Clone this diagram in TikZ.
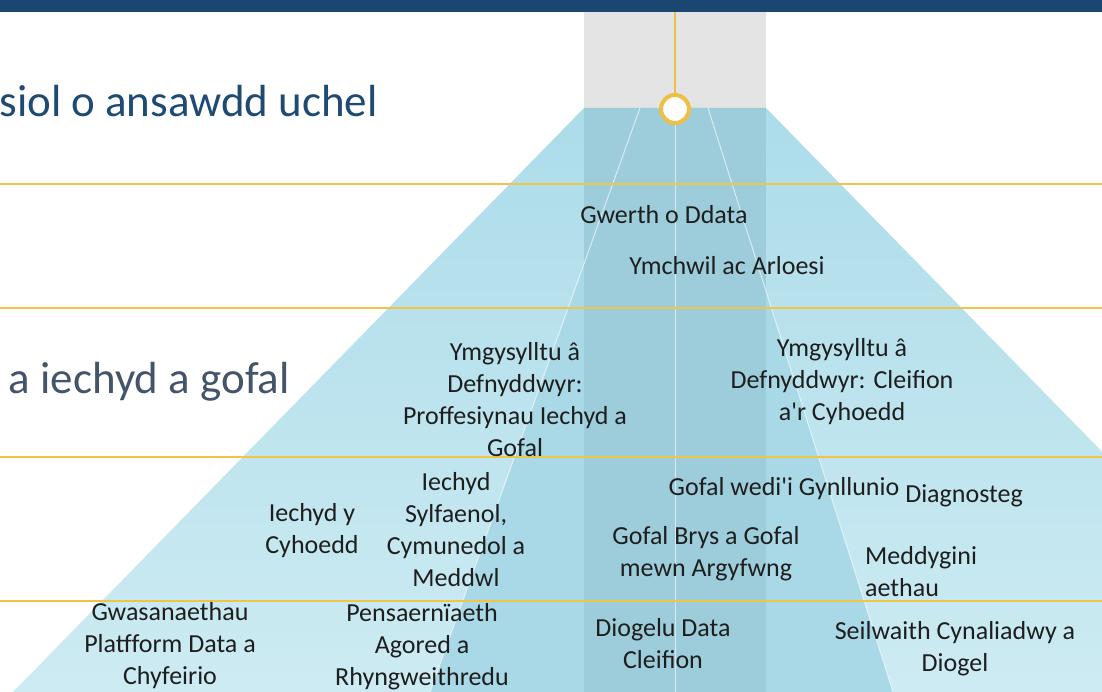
\documentclass[tikz,border=0pt]{standalone}
\usepackage{fontspec}
\setmainfont{Carlito}[Ligatures=TeXOff]
\definecolor{barblue}{HTML}{1B4670}
\definecolor{titleblue}{HTML}{1F4A74}
\definecolor{titlegray}{HTML}{44546A}
\definecolor{graybox}{HTML}{E4E4E4}
\definecolor{conetop}{HTML}{ACDCEA}
\definecolor{conebot}{HTML}{CDEBF2}
\definecolor{fanblue}{HTML}{A9D8E6}
\definecolor{colblue}{HTML}{9DCDDB}
\definecolor{gold}{HTML}{EDC043}
\definecolor{hline}{HTML}{F0C447}
\definecolor{labelc}{HTML}{1E1E1E}
\tikzset{
  lbl/.style={font=\fontsize{26}{31.7}\selectfont, text=labelc, align=center, inner sep=0pt, anchor=base},
  ttl/.style={font=\fontsize{45}{54}\selectfont, inner sep=0pt, anchor=base east},
  rowline/.style={draw=hline, line width=1.3pt},
  fanline/.style={draw=white, draw opacity=0.6, line width=1pt}
}
\begin{document}
\begin{tikzpicture}[x=1pt,y=-1pt]
\useasboundingbox (0,0) rectangle (1102,692);
\begin{scope}
\clip (0,0) rectangle (1102,692);
\fill[white] (0,0) rectangle (1102,692);
% gray box and bar
\fill[graybox] (584,12) rectangle (766,108);
\fill[barblue] (0,0) rectangle (1102,12.5);
% cone
\shade[top color=conetop, bottom color=conebot] (584,108) -- (766,108) -- (1337,692) -- (13,692) -- cycle;
% fan
\fill[fanblue] (640,108) -- (708,108) -- (893,692) -- (430,692) -- cycle;
% column
\fill[colblue] (584,108) rectangle (766,692);
% fan lines
\coordinate (fl0) at (640,108); \coordinate (fl1) at (430,692);
\coordinate (fr0) at (708,108); \coordinate (fr1) at (893,692);
\coordinate (fc0) at (675,108); \coordinate (fc1) at (675,692);
\draw[fanline] (fl0) -- (fl1);
\draw[fanline] (fr0) -- (fr1);
\draw[fanline] (fc0) -- (fc1);
% row lines
\foreach \yy in {184,308,457,601} {
  \draw[rowline] (0,\yy) -- (1102,\yy);
}
% stem and circle
\coordinate (stemtop) at (675,12.5);
\node[circle, draw=gold, line width=4pt, fill=white, minimum size=28pt, inner sep=0pt] (hub) at (675,109) {};
\draw[gold, line width=2.8pt] (stemtop) -- (hub.north);
\end{scope}
% titles
\node[ttl, text=titleblue] (t1) at (378,117) {siol o ansawdd uchel};
\node[ttl, text=titlegray] (t2) at (290,393) {a iechyd a gofal};
% labels (anchor = baseline of last line)
\node[lbl] (gwerth) at (664,224) {Gwerth o Ddata};
\node[lbl] (ymchwil) at (727,275) {Ymchwil ac Arloesi};
\node[lbl] (ymgL) at (515,456) {Ymgysylltu â\\Defnyddwyr:\\Proffesiynau Iechyd a\\Gofal};
\node[lbl] (ymgR) at (842,420) {Ymgysylltu â\\Defnyddwyr: Cleifion\\a'r Cyhoedd};
\node[lbl] (iechydC) at (312,553) {Iechyd y\\Cyhoedd};
\node[lbl] (iechydS) at (456,586) {Iechyd\\Sylfaenol,\\Cymunedol a\\Meddwl};
\node[lbl] (gofalW) at (784,495) {Gofal wedi'i Gynllunio};
\node[lbl] (diag) at (964,502) {Diagnosteg};
\node[lbl] (brys) at (706,576) {Gofal Brys a Gofal\\mewn Argyfwng};
\node[lbl, align=left, anchor=base west] (medd) at (865,596) {Meddygini\\aethau};
\node[lbl] (gwas) at (170,684) {Gwasanaethau\\Platfform Data a\\Chyfeirio};
\node[lbl] (pens) at (422,685) {Pensaernïaeth\\Agored a\\Rhyngweithredu};
\node[lbl] (diogelu) at (663,668) {Diogelu Data\\Cleifion};
\node[lbl] (seil) at (955,671) {Seilwaith Cynaliadwy a\\Diogel};
\end{tikzpicture}
\end{document}
